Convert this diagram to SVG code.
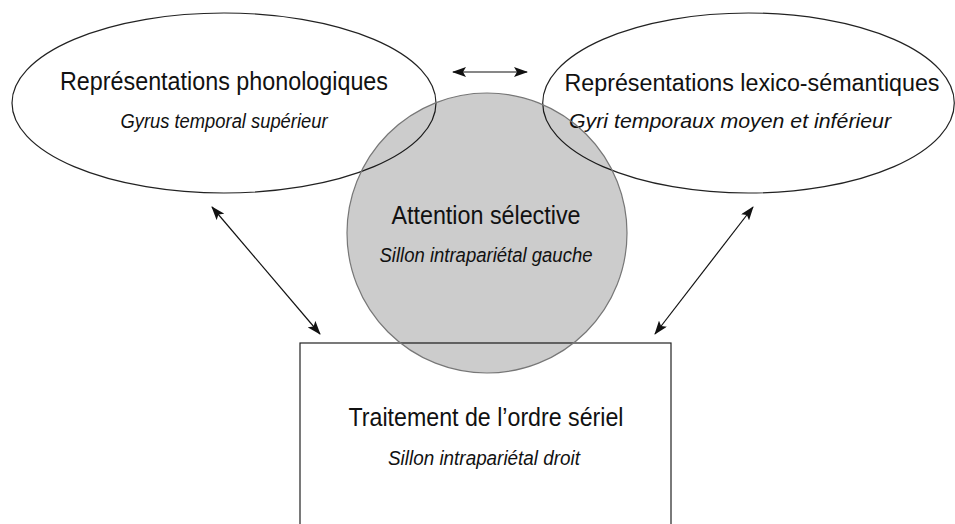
<svg xmlns="http://www.w3.org/2000/svg" width="955" height="524" viewBox="0 0 955 524">
<style>
.shape{fill:#fff;stroke:#222;stroke-width:1.2}
.t{font-family:"Liberation Sans",Arial,sans-serif;font-size:25px;fill:#111;text-anchor:middle}
.i{font-family:"Liberation Sans",Arial,sans-serif;font-size:19.5px;font-style:italic;fill:#111;text-anchor:middle}
.c{stroke:#111;stroke-width:1.2;fill:none;marker-start:url(#ah);marker-end:url(#ah)}
</style>
<defs>
<marker id="ah" viewBox="0 0 14 10" refX="13" refY="5" markerWidth="14" markerHeight="10" markerUnits="userSpaceOnUse" orient="auto-start-reverse">
<path d="M0,0 L14,5 L0,10 L3,5 Z" fill="#111"/>
</marker>
</defs>
<rect width="955" height="524" fill="#fff"/>
<g id="phono">
<ellipse class="shape" cx="224" cy="103" rx="212" ry="90"/>
<text class="t" x="224" y="90" textLength="328" lengthAdjust="spacingAndGlyphs">Représentations phonologiques</text>
<text class="i" x="224" y="128" textLength="207" lengthAdjust="spacingAndGlyphs">Gyrus temporal supérieur</text>
</g>
<g id="lexico">
<ellipse class="shape" cx="748.5" cy="103" rx="205.8" ry="90"/>
<text class="t" x="752" y="91" style="font-size:23.5px" textLength="375" lengthAdjust="spacingAndGlyphs">Représentations lexico-sémantiques</text>
<text class="i" x="730" y="128" textLength="322" lengthAdjust="spacingAndGlyphs">Gyri temporaux moyen et inférieur</text>
</g>
<g id="serial">
<rect class="shape" x="300" y="343" width="371" height="200"/>
<text class="t" x="486" y="426" textLength="275" lengthAdjust="spacingAndGlyphs">Traitement de l’ordre sériel</text>
<text class="i" x="484" y="465" textLength="192" lengthAdjust="spacingAndGlyphs">Sillon intrapariétal droit</text>
</g>
<g id="connectors">
<line class="c" x1="453" y1="72" x2="527" y2="72"/>
<line class="c" x1="212" y1="207" x2="320" y2="334"/>
<line class="c" x1="753" y1="207" x2="655" y2="334"/>
</g>
<g id="attention">
<circle cx="487" cy="233" r="140" fill="#000" fill-opacity="0.2" stroke="#777" stroke-width="1.2"/>
<text class="t" x="486" y="224" textLength="189" lengthAdjust="spacingAndGlyphs">Attention sélective</text>
<text class="i" x="486" y="262" textLength="213" lengthAdjust="spacingAndGlyphs">Sillon intrapariétal gauche</text>
</g>
</svg>
